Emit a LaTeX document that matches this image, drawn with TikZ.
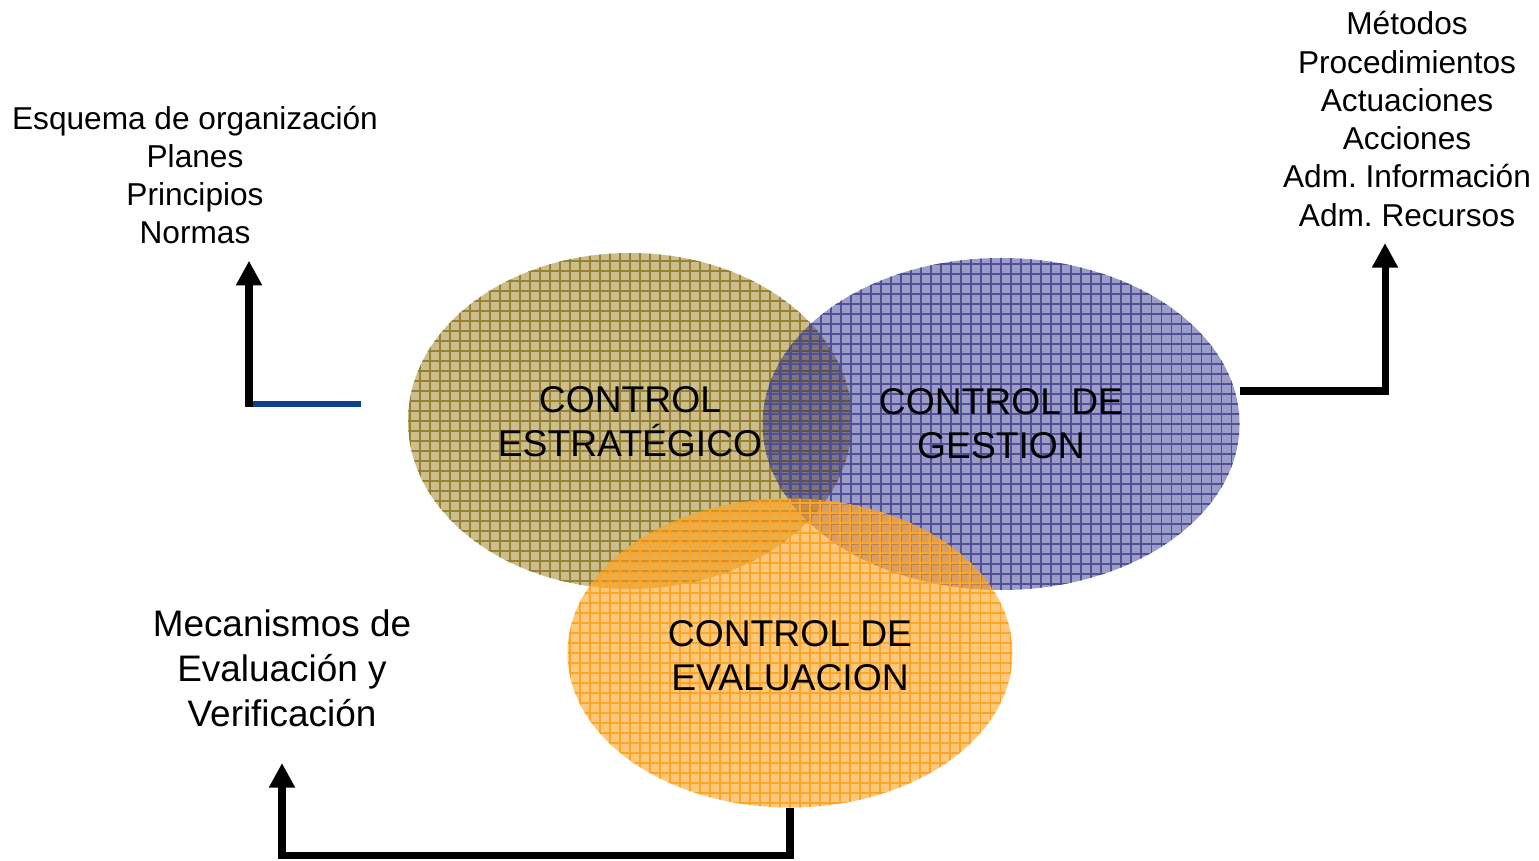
\documentclass[tikz,border=0pt]{standalone}
\usepackage{fontspec}
\setmainfont{Liberation Sans}
\usepackage{tikz}
\usepackage{xcolor}
\usetikzlibrary{arrows,arrows.meta,shapes.geometric}
\frenchspacing

\definecolor{tanfill}{RGB}{203,189,140}
\definecolor{tangrid}{RGB}{150,130,50}
\definecolor{bluefill}{RGB}{8,8,117}
\definecolor{bluegrid}{RGB}{80,80,150}
\definecolor{orgfill}{RGB}{255,163,30}
\definecolor{orggrid}{RGB}{252,165,40}
\definecolor{linkblue}{RGB}{11,63,143}

\tikzset{
  ctrl/.style={draw=none,ellipse,inner sep=0pt,outer sep=0pt},
  gridded/.style={path picture={\draw[#1,line width=0.3pt,step=0.1] (path picture bounding box.south west) grid (path picture bounding box.north east);}},
  ctrltext/.style={align=center,font=\fontsize{10.6}{12.5}\selectfont},
  sidetext/.style={align=center,font=\fontsize{9}{10.9}\selectfont},
  link/.style={line width=2pt,-{Triangle[width=7pt,length=7pt]}}
}

\begin{document}
\begin{tikzpicture}[line width=1.00pt]
      \useasboundingbox (0,0) rectangle (15.39,8.60);

      % the three controls
      \node [ctrl,fill=tanfill,gridded=tangrid,minimum width=4.44cm,minimum height=3.36cm] (estrat) at (6.30,4.39) {};
      \node [ctrl,fill=bluefill,fill opacity=0.4,gridded=bluegrid,minimum width=4.77cm,minimum height=3.32cm] (gestion) at (10.01,4.36) {};
      \node [ctrl,fill=orgfill,fill opacity=0.6,gridded=orggrid,minimum width=4.45cm,minimum height=3.09cm] (evalua) at (7.90,2.07) {};

      \node [ctrltext] (estratTxt) at (6.30,4.38) {CONTROL\\ESTRATÉGICO};
      \node [ctrltext] (gestionTxt) at (10.01,4.36) {CONTROL DE\\GESTION};
      \node [ctrltext] (evaluaTxt) at (7.90,2.04) {CONTROL DE\\EVALUACION};

      % what each one covers
      \node [sidetext] (esqTxt) at (1.95,6.85) {%
        Esquema de organización\\
        Planes\\
        Principios\\
        Normas
      };
      \node [sidetext] (metTxt) at (14.07,7.41) {%
        Métodos\\
        Procedimientos\\
        Actuaciones\\
        Acciones\\
        Adm. Información\\
        Adm. Recursos
      };
      \node [align=center,font=\fontsize{10.5}{12.8}\selectfont] (mecTxt) at (2.82,1.92) {%
        Mecanismos de\\
        Evaluación y\\
        Verificación
      };

      \coordinate (lcorner) at (2.49,4.56);
      \coordinate (lstart) at (3.61,4.56);
      \draw [linkblue,line width=1.7pt] (lstart) -- (lcorner);
      \draw [link] ([yshift=-0.03cm]lcorner) -- ([yshift=-0.03cm]lcorner |- esqTxt.south);
      \draw [link] ([yshift=0.33cm]gestion.east) -| ([xshift=-0.22cm,yshift=-0.03cm]metTxt.south);
      \draw [link] (evalua.south) -- ++(0,-0.48) -| ([yshift=-0.23cm]mecTxt.south);
    \end{tikzpicture}
\end{document}
